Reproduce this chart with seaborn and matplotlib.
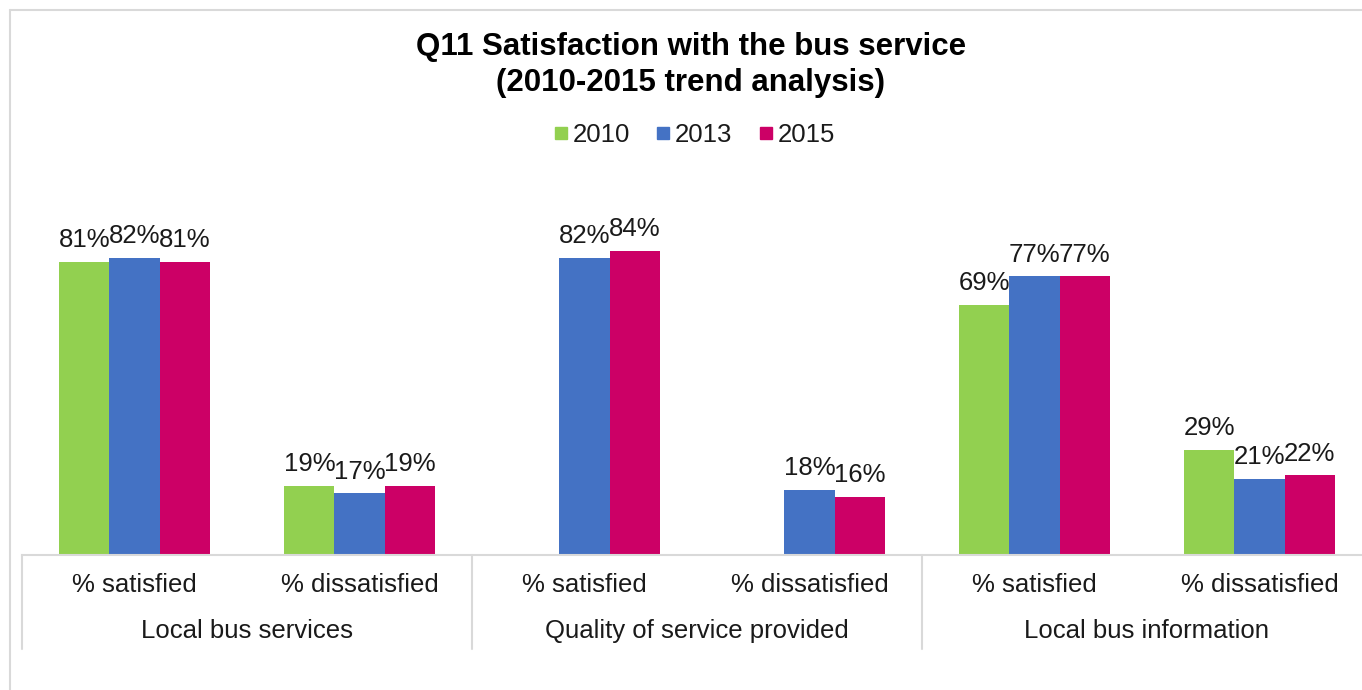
import numpy as np
import pandas as pd
import seaborn as sns
import matplotlib.pyplot as plt
from matplotlib.lines import Line2D

groups = ["Local bus services", "Quality of service provided", "Local bus information"]
measures = ["% satisfied", "% dissatisfied"]
years = ["2010", "2013", "2015"]
v2010 = [81, 19, np.nan, np.nan, 69, 29]
v2013 = [82, 17, 82, 18, 77, 21]
v2015 = [81, 19, 84, 16, 77, 22]
colors = ["#92D050", "#4472C4", "#CC0066"]

sns.set_theme(style="white")
plt.rcParams["font.family"] = ["Liberation Sans", "DejaVu Sans"]

items = [f"{g} | {m}" for g in groups for m in measures]
rows = []
for year, vals in zip(years, [v2010, v2013, v2015]):
    for item, v in zip(items, vals):
        rows.append({"item": item, "year": year, "value": v})
df = pd.DataFrame(rows)

W, H = 1362, 690
fig = plt.figure(figsize=(W / 100, H / 100), dpi=100)
# axes: baseline at y=555px, ~3.62 px per %, categories 225 px wide
ax = fig.add_axes([22 / W, (H - 555) / H, 1350 / W, 362 / H])

sns.barplot(
    data=df,
    x="item",
    y="value",
    hue="year",
    order=items,
    hue_order=years,
    palette=colors,
    saturation=1,
    width=0.667,
    gap=0,
    linewidth=0,
    errorbar=None,
    legend=False,
    ax=ax,
)

for cont in ax.containers:
    ax.bar_label(cont, fmt=lambda v: f"{v:.0f}%", padding=7, fontsize=18.5, color="#1a1a1a")

ax.set_ylim(0, 100)
ax.set_xlim(-0.5, 5.5)
ax.set_yticks([])
ax.set_xticks(range(len(items)))
ax.set_xticklabels(measures * len(groups), fontsize=18.5, color="#1a1a1a")
ax.tick_params(axis="x", length=0, pad=13)
ax.set_xlabel("")
ax.set_ylabel("")
sns.despine(ax=ax, left=True, top=True, right=True)
ax.spines["bottom"].set_color("#D9D9D9")
ax.spines["bottom"].set_linewidth(1.5)

trans = ax.get_xaxis_transform()
for xs in [-0.5, 1.5, 3.5]:
    ax.plot([xs, xs], [0, -94 / 362], color="#D9D9D9", lw=1.5,
            transform=trans, clip_on=False)
for i, g in enumerate(groups):
    ax.text(2 * i + 0.5, -76 / 362, g, transform=trans, ha="center",
            va="center", fontsize=18.5, color="#1a1a1a")

# outer chart frame
fig.add_artist(Line2D([10 / W, 10 / W], [0, 1 - 10 / H], color="#D9D9D9", lw=1.5))
fig.add_artist(Line2D([10 / W, 1], [1 - 10 / H, 1 - 10 / H], color="#D9D9D9", lw=1.5))

fig.text(691 / W, 1 - 65 / H, "Q11 Satisfaction with the bus service\n(2010-2015 trend analysis)",
         ha="center", va="center", fontsize=22.5, fontweight="bold",
         linespacing=1.22, color="black")

handles = [Line2D([], [], marker="s", linestyle="none", markersize=9,
                  markerfacecolor=c, markeredgecolor=c) for c in colors]
fig.legend(handles, years, loc="center", bbox_to_anchor=(694 / W, 1 - 135 / H),
           ncol=3, frameon=False, fontsize=18.5, handlelength=0.6,
           handletextpad=0.15, columnspacing=1.0, labelcolor="#1a1a1a")

fig.savefig("out.png", dpi=100)
